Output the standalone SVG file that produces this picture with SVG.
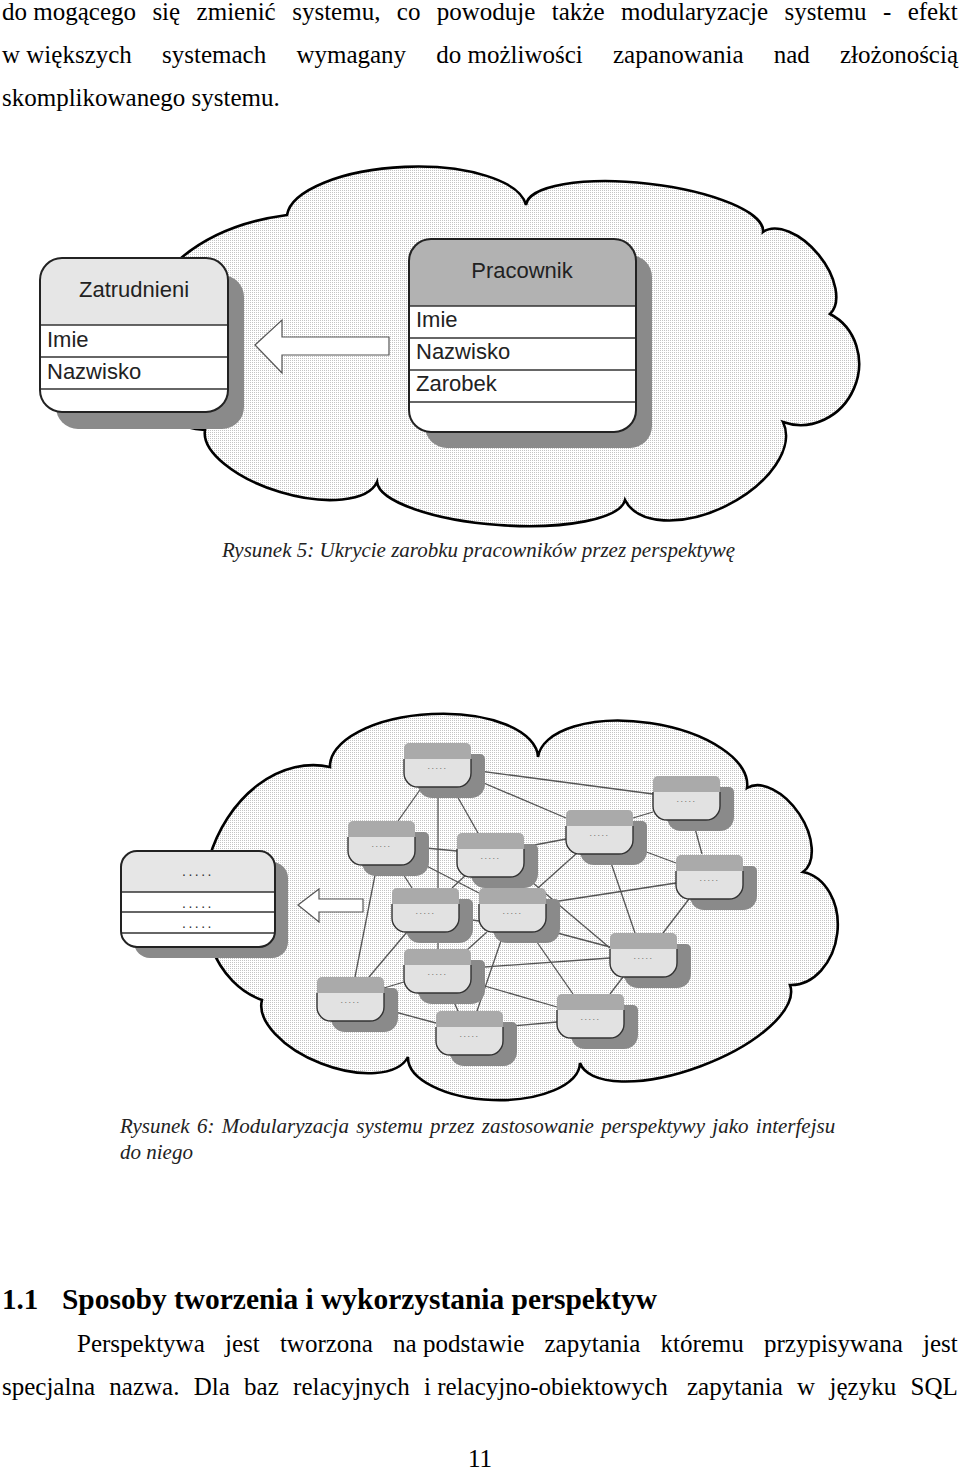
<svg xmlns="http://www.w3.org/2000/svg" xmlns:xlink="http://www.w3.org/1999/xlink" width="960" height="1470" viewBox="0 0 960 1470">
<style>
.txt{font-family:"Liberation Serif","Times New Roman",serif;font-size:25px;fill:#000}
.cap{font-family:"Liberation Serif","Times New Roman",serif;font-style:italic;font-size:21px;fill:#222}
.head{font-family:"Liberation Serif","Times New Roman",serif;font-weight:bold;font-size:29px;fill:#000}
.lbl{font-family:"Liberation Sans",Arial,sans-serif;font-size:22px;fill:#222}
.dots{font-family:"Liberation Sans",Arial,sans-serif;font-size:9px;fill:#707070;letter-spacing:1.5px;text-anchor:middle}
.bdots{font-family:"Liberation Sans",Arial,sans-serif;font-size:14px;fill:#333;letter-spacing:2.5px;text-anchor:middle}
.edge{stroke:#555;stroke-width:1.3;fill:none}
.cloud{stroke:#000;stroke-width:2.6;fill:url(#stip)}
.shadow{fill:#8a8a8a}
.row{stroke:#333;stroke-width:1.6}
.frame{fill:none;stroke:#222;stroke-width:2}
.arrow{fill:#fff;stroke:#555;stroke-width:1.2}
</style>
<defs>
<pattern id="stip" width="2" height="2" patternUnits="userSpaceOnUse">
<rect width="2" height="2" fill="#fff"/>
<rect width="1" height="1" fill="#c4c4c4"/>
</pattern>
<g id="nodeShape">
<path class="shadow" d="M19,11 H76 A5 5 0 0 1 81,16 V41 A14 14 0 0 1 67,55 H28 A14 14 0 0 1 14,41 V16 A5 5 0 0 1 19,11 Z"/>
<path fill="#e2e2e2" stroke="#333" stroke-width="1.4" d="M0,16 V30 A14 14 0 0 0 14,44 H53 A14 14 0 0 0 67,30 V16"/>
<path fill="#aaaaaa" d="M0,16 V5 A5 5 0 0 1 5,0 H62 A5 5 0 0 1 67,5 V16 Z"/>
</g>
</defs>
<rect width="960" height="1470" fill="#fff"/>

<g id="text-top">
<text class="txt" y="20"><tspan x="2">do mogącego</tspan><tspan x="152.4">się</tspan><tspan x="196.6">zmienić</tspan><tspan x="292.2">systemu,</tspan><tspan x="396.8">co</tspan><tspan x="436.8">powoduje</tspan><tspan x="551.8">także</tspan><tspan x="621">modularyzacje</tspan><tspan x="784.6">systemu</tspan><tspan x="883">-</tspan><tspan x="907.7">efekt</tspan></text>
<text class="txt" y="63"><tspan x="2">w większych</tspan><tspan x="162">systemach</tspan><tspan x="296.4">wymagany</tspan><tspan x="436.3">do możliwości</tspan><tspan x="613">zapanowania</tspan><tspan x="773.7">nad</tspan><tspan x="840">złożonością</tspan></text>
<text class="txt" x="2" y="106">skomplikowanego systemu.</text>
</g>

<g id="figure5">
<path id="cloud1" class="cloud" d="M205,430 C100,425 100,240 287,215 A120 47 -2.4 0 1 526,205 A119 35 6.5 0 1 763,232 A53 30 50.7 0 1 830,314 A59 55 113.5 0 1 783,422 A88 50 153.7 0 1 625,500 A124.5 36 -175.8 0 1 377,482 A90 40 -163.2 0 1 205,430 Z"/>
<g id="zatrudnieni">
<rect class="shadow" x="56" y="275" width="188" height="154" rx="22"/>
<rect x="40" y="258" width="188" height="154" rx="22" fill="#fff"/>
<path fill="#e6e6e6" d="M40,325 V280 A22 22 0 0 1 62,258 H206 A22 22 0 0 1 228,280 V325 Z"/>
<line class="row" x1="40" y1="325" x2="228" y2="325"/>
<line class="row" x1="40" y1="357" x2="228" y2="357"/>
<line class="row" x1="40" y1="389" x2="228" y2="389"/>
<rect class="frame" x="40" y="258" width="188" height="154" rx="22"/>
<text class="lbl" x="134" y="297" text-anchor="middle">Zatrudnieni</text>
<text class="lbl" x="47" y="347">Imie</text>
<text class="lbl" x="47" y="379">Nazwisko</text>
</g>
<g id="pracownik">
<rect class="shadow" x="425" y="255" width="227" height="193" rx="22"/>
<rect x="409" y="239" width="227" height="193" rx="22" fill="#fff"/>
<path fill="#b2b2b2" d="M409,306 V261 A22 22 0 0 1 431,239 H614 A22 22 0 0 1 636,261 V306 Z"/>
<line class="row" x1="409" y1="306" x2="636" y2="306"/>
<line class="row" x1="409" y1="338" x2="636" y2="338"/>
<line class="row" x1="409" y1="370" x2="636" y2="370"/>
<line class="row" x1="409" y1="402" x2="636" y2="402"/>
<rect class="frame" x="409" y="239" width="227" height="193" rx="22"/>
<text class="lbl" x="522" y="278" text-anchor="middle">Pracownik</text>
<text class="lbl" x="416" y="327">Imie</text>
<text class="lbl" x="416" y="359">Nazwisko</text>
<text class="lbl" x="416" y="391">Zarobek</text>
</g>
<g id="arrow1">
<polygon class="arrow" points="255,345 282,320 282,337 389,337 389,355 282,355 282,373"/>
</g>
<text class="cap" x="478.5" y="557" text-anchor="middle">Rysunek 5: Ukrycie zarobku pracowników przez perspektywę</text>
</g>

<g id="figure6">
<path id="cloud2" class="cloud" d="M262,1000 A121.5 95 -73.7 0 1 330,767 A104 48 -2.75 0 1 538,757 A105.6 50 8.4 0 1 747,788 A50.5 30 56.3 0 1 803,872 A57 44 96.6 0 1 790,985 A112 45 159.6 0 1 580,1063 A86 40 -178 0 1 408,1057 A78.5 40 -158.7 0 1 262,1000 Z"/>
<g id="connectors">
<line class="edge" x1="472" y1="770" x2="653" y2="794"/>
<line class="edge" x1="472" y1="778" x2="566" y2="818"/>
<line class="edge" x1="422" y1="787" x2="398" y2="821"/>
<line class="edge" x1="452" y1="787" x2="478" y2="833"/>
<line class="edge" x1="438" y1="787" x2="438" y2="888"/>
<line class="edge" x1="633" y1="818" x2="653" y2="812"/>
<line class="edge" x1="693" y1="821" x2="702" y2="854"/>
<line class="edge" x1="524" y1="847" x2="566" y2="839"/>
<line class="edge" x1="633" y1="847" x2="676" y2="863"/>
<line class="edge" x1="577" y1="853" x2="538" y2="888"/>
<line class="edge" x1="608" y1="854" x2="635" y2="933"/>
<line class="edge" x1="415" y1="847" x2="457" y2="851"/>
<line class="edge" x1="398" y1="866" x2="412" y2="888"/>
<line class="edge" x1="413" y1="859" x2="479" y2="893"/>
<line class="edge" x1="377" y1="865" x2="355" y2="977"/>
<line class="edge" x1="467" y1="874" x2="452" y2="888"/>
<line class="edge" x1="500" y1="876" x2="504" y2="888"/>
<line class="edge" x1="520" y1="872" x2="610" y2="948"/>
<line class="edge" x1="676" y1="883" x2="546" y2="903"/>
<line class="edge" x1="689" y1="899" x2="663" y2="933"/>
<line class="edge" x1="459" y1="918" x2="479" y2="921"/>
<line class="edge" x1="438" y1="932" x2="438" y2="949"/>
<line class="edge" x1="407" y1="932" x2="369" y2="977"/>
<line class="edge" x1="546" y1="930" x2="610" y2="947"/>
<line class="edge" x1="487" y1="932" x2="467" y2="950"/>
<line class="edge" x1="530" y1="932" x2="573" y2="994"/>
<line class="edge" x1="504" y1="932" x2="477" y2="1011"/>
<line class="edge" x1="471" y1="968" x2="610" y2="958"/>
<line class="edge" x1="623" y1="977" x2="610" y2="994"/>
<line class="edge" x1="384" y1="988" x2="404" y2="982"/>
<line class="edge" x1="471" y1="982" x2="557" y2="1007"/>
<line class="edge" x1="450" y1="993" x2="458" y2="1011"/>
<line class="edge" x1="384" y1="1009" x2="436" y2="1023"/>
<line class="edge" x1="502" y1="1027" x2="557" y2="1022"/>
</g>
<g id="n1" transform="translate(404,743)"><use xlink:href="#nodeShape"/><text class="dots" x="33.5" y="26">.....</text></g>
<g id="n2" transform="translate(653,776)"><use xlink:href="#nodeShape"/><text class="dots" x="33.5" y="26">.....</text></g>
<g id="n3" transform="translate(566,810)"><use xlink:href="#nodeShape"/><text class="dots" x="33.5" y="26">.....</text></g>
<g id="n4" transform="translate(348,821)"><use xlink:href="#nodeShape"/><text class="dots" x="33.5" y="26">.....</text></g>
<g id="n5" transform="translate(457,833)"><use xlink:href="#nodeShape"/><text class="dots" x="33.5" y="26">.....</text></g>
<g id="n6" transform="translate(676,855)"><use xlink:href="#nodeShape"/><text class="dots" x="33.5" y="26">.....</text></g>
<g id="n7" transform="translate(392,888)"><use xlink:href="#nodeShape"/><text class="dots" x="33.5" y="26">.....</text></g>
<g id="n8" transform="translate(479,888)"><use xlink:href="#nodeShape"/><text class="dots" x="33.5" y="26">.....</text></g>
<g id="n9" transform="translate(610,933)"><use xlink:href="#nodeShape"/><text class="dots" x="33.5" y="26">.....</text></g>
<g id="n10" transform="translate(404,949)"><use xlink:href="#nodeShape"/><text class="dots" x="33.5" y="26">.....</text></g>
<g id="n11" transform="translate(317,977)"><use xlink:href="#nodeShape"/><text class="dots" x="33.5" y="26">.....</text></g>
<g id="n12" transform="translate(557,994)"><use xlink:href="#nodeShape"/><text class="dots" x="33.5" y="26">.....</text></g>
<g id="n13" transform="translate(436,1011)"><use xlink:href="#nodeShape"/><text class="dots" x="33.5" y="26">.....</text></g>
<g id="viewbox">
<rect class="shadow" x="134" y="862" width="154" height="96" rx="16"/>
<rect x="121" y="851" width="154" height="96" rx="16" fill="#fff"/>
<path fill="#e6e6e6" d="M121,892 V867 A16 16 0 0 1 137,851 H259 A16 16 0 0 1 275,867 V892 Z"/>
<line class="row" x1="121" y1="892" x2="275" y2="892"/>
<line class="row" x1="121" y1="912" x2="275" y2="912"/>
<line class="row" x1="121" y1="933" x2="275" y2="933"/>
<rect class="frame" x="121" y="851" width="154" height="96" rx="16"/>
<text class="bdots" x="198" y="876">.....</text>
<text class="bdots" x="198" y="908">.....</text>
<text class="bdots" x="198" y="928">.....</text>
</g>
<g id="arrow2">
<polygon class="arrow" points="298,905 319,889 319,899 363,899 363,912 319,912 319,922"/>
</g>
<text class="cap" x="120" y="1133" word-spacing="2.1">Rysunek 6: Modularyzacja systemu przez zastosowanie perspektywy jako interfejsu</text>
<text class="cap" x="120" y="1159">do niego</text>
</g>

<g id="text-bottom">
<text class="head" y="1309"><tspan x="2">1.1</tspan><tspan x="62" textLength="595" lengthAdjust="spacingAndGlyphs">Sposoby tworzenia i wykorzystania perspektyw</tspan></text>
<text class="txt" y="1352"><tspan x="77">Perspektywa</tspan><tspan x="225">jest</tspan><tspan x="279.9">tworzona</tspan><tspan x="393.1">na podstawie</tspan><tspan x="544.5">zapytania</tspan><tspan x="660.5">któremu</tspan><tspan x="764">przypisywana</tspan><tspan x="923">jest</tspan></text>
<text class="txt" y="1395"><tspan x="2">specjalna</tspan><tspan x="109.3">nazwa.</tspan><tspan x="193.7">Dla</tspan><tspan x="244.1">baz</tspan><tspan x="293.1">relacyjnych</tspan><tspan x="424">i relacyjno-obiektowych</tspan><tspan x="687">zapytania</tspan><tspan x="797.1">w</tspan><tspan x="829.5">języku</tspan><tspan x="910.5">SQL</tspan></text>
<text class="txt" x="480" y="1467" text-anchor="middle">11</text>
</g>
</svg>
